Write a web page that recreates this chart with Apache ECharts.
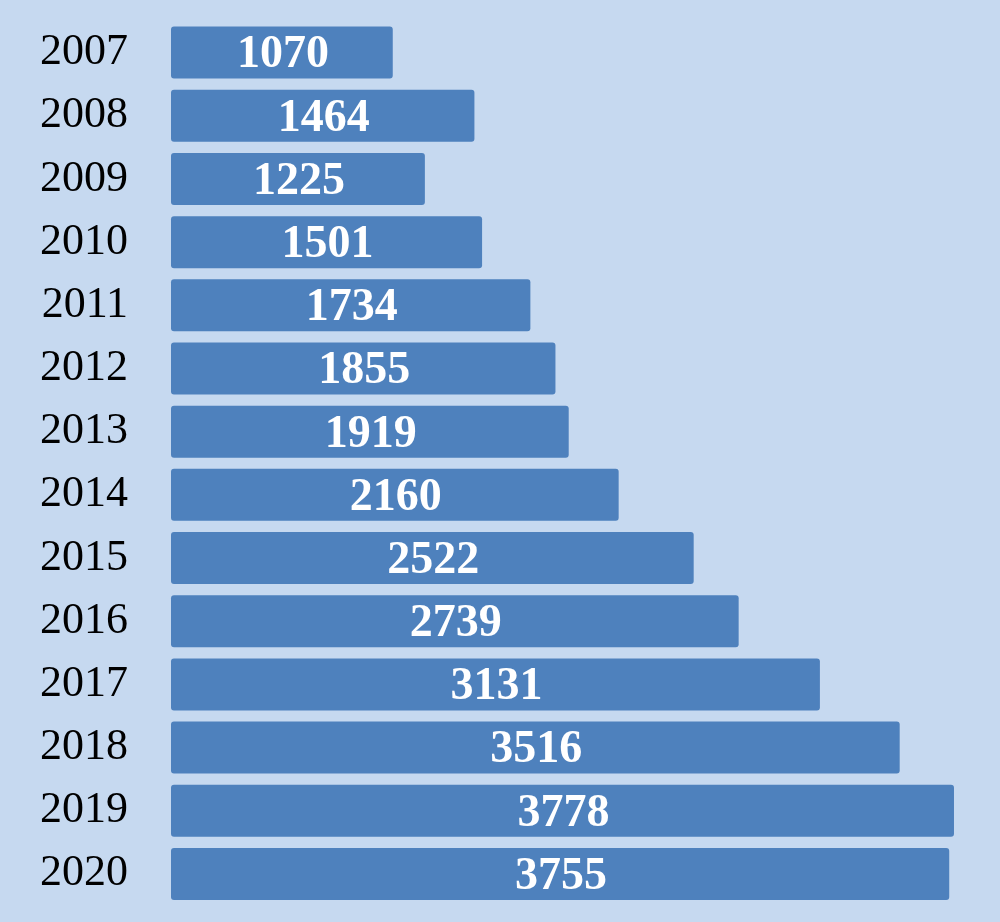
<!DOCTYPE html>
<html>
<head>
<meta charset="utf-8">
<style>
  html, body { margin: 0; padding: 0; background: #c6d9f0; }
  #main { width: 1000px; height: 922px; }
</style>
<script src="https://cdn.jsdelivr.net/npm/echarts@6/dist/echarts.min.js"></script>
</head>
<body>
<div id="main"></div>
<script>
// years shown top to bottom
var years = ['2007', '2008', '2009', '2010', '2011', '2012', '2013',
             '2014', '2015', '2016', '2017', '2018', '2019', '2020'];
var values = [1070, 1464, 1225, 1501, 1734, 1855, 1919,
              2160, 2522, 2739, 3131, 3516, 3778, 3755];

var chart = echarts.init(document.getElementById('main'));
chart.setOption({
    backgroundColor: '#c6d9f0',
    animation: false,
    grid: {left: 171, width: 831, top: 21, bottom: 16.5},
    xAxis: {
        type: 'value', min: 0, max: 4000,
        show: false
    },
    yAxis: {
        type: 'category', data: years, inverse: true,
        axisLine: {show: false},
        axisTick: {show: false},
        axisLabel: {
            margin: 43,
            color: '#000',
            fontFamily: 'Liberation Serif',
            fontSize: 44
        }
    },
    series: [{
        type: 'bar',
        data: values,
        barWidth: 52,
        itemStyle: {color: '#4e81bd', borderRadius: 3},
        label: {
            show: true,
            position: 'inside',
            offset: [1, 3],
            color: '#fff',
            fontFamily: 'Liberation Serif',
            fontWeight: 'bold',
            fontSize: 46
        }
    }]
});
</script>
</body>
</html>
